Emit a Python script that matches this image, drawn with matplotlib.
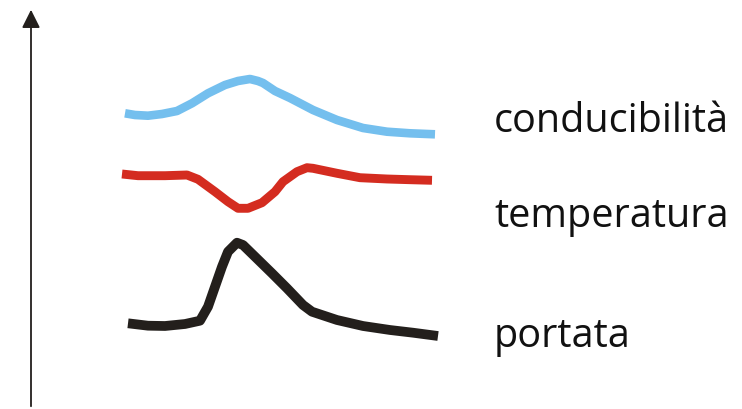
import matplotlib.pyplot as plt

# values (x = time, y = level, screen-like units)
cond_x = [125, 135, 148, 162, 177, 192, 208, 225, 238, 250, 258, 263, 275, 290,
          313, 337, 363, 387, 410, 435]
cond_y = [113.3, 115, 115.7, 114, 111, 103.3, 93.3, 85, 81, 79, 81, 83, 91, 98,
          110, 120, 128, 131.7, 133.3, 134.3]

temp_x = [122, 138, 165, 187, 198, 215, 228, 238, 248, 262, 275, 283, 297, 307,
          313, 337, 360, 387, 410, 432]
temp_y = [174, 175.7, 175.7, 175, 179.3, 191.7, 201.7, 208.3, 208.3, 202.7, 191.7,
          181.7, 171.7, 167.7, 168.3, 173.3, 177.7, 179, 179.7, 180.3]

port_x = [128, 148, 165, 185, 200, 208, 215, 222, 228, 237, 243, 255, 272, 287,
          303, 312, 337, 363, 390, 413, 438]
port_y = [323.3, 325.7, 326, 324, 320.7, 306.7, 286.7, 266.7, 251.7, 242.7, 245,
          256.7, 273.3, 288.3, 305, 311.7, 320, 326, 330, 332.7, 336]

labels = ['conducibilità', 'temperatura', 'portata']
label_y = [132, 227, 347]

fig = plt.figure(figsize=(7.42, 4.09), dpi=100)
ax = fig.add_axes([0, 0, 1, 1])
ax.set_xlim(0, 742)
ax.set_ylim(409, 0)
ax.axis('off')

# vertical arrow
ax.annotate('', xy=(31, 7), xytext=(31, 409),
            arrowprops=dict(arrowstyle='-|>,head_length=1.1,head_width=0.55',
                            color='#231f1c', lw=1.3))

ax.plot(cond_x, cond_y, color='#74bfee', lw=6.2, solid_joinstyle='round', solid_capstyle='butt')
ax.plot(temp_x, temp_y, color='#d42c20', lw=6.4, solid_joinstyle='round', solid_capstyle='butt')
ax.plot(port_x, port_y, color='#231f1c', lw=7, solid_joinstyle='round', solid_capstyle='butt')

for lab, yy in zip(labels, label_y):
    ax.text(494, yy, lab, fontsize=28.5, family='Open Sans', color='#111111',
            va='baseline', ha='left')

fig.savefig('out.png', dpi=100)
